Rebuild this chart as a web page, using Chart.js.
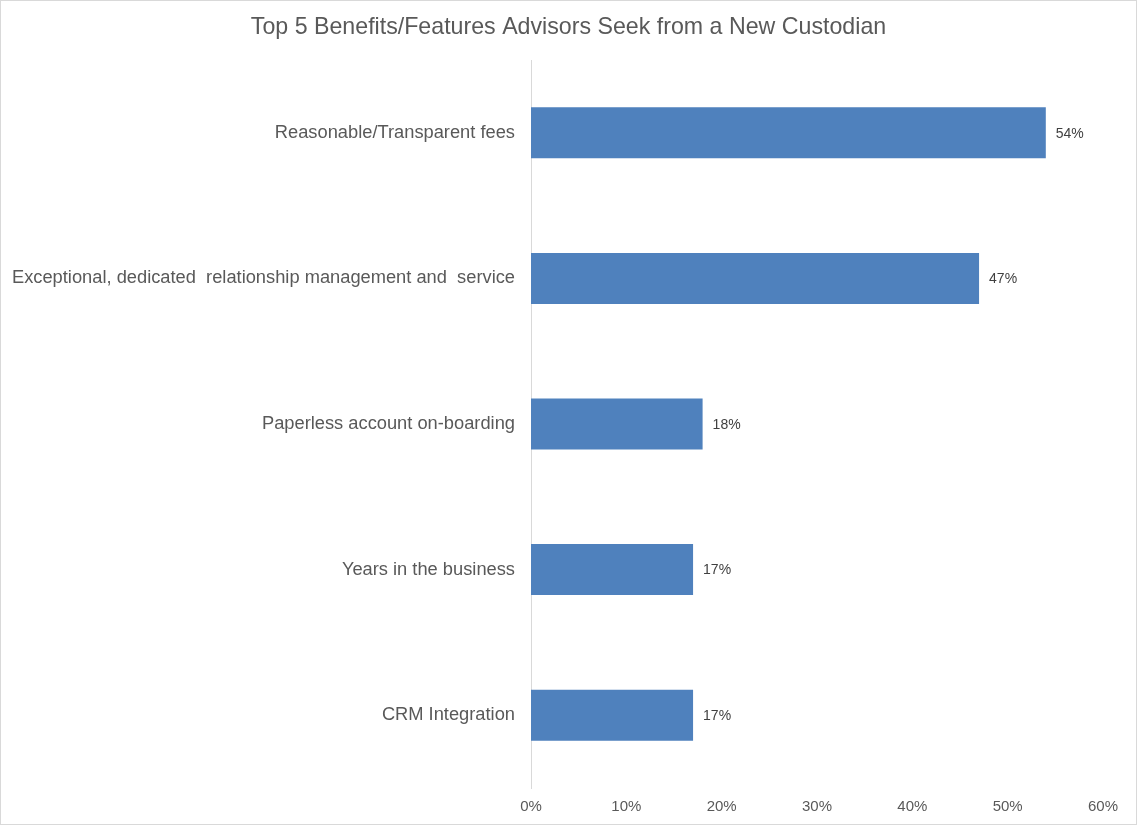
<!DOCTYPE html>
<html>
<head>
<meta charset="utf-8">
<script src="https://cdn.jsdelivr.net/npm/chart.js@4"></script>
<style>
  html, body { margin: 0; padding: 0; background: #fff; }
  #wrap { position: absolute; left: 0; top: 0; width: 1137px; height: 825px; box-sizing: border-box; border: 1px solid #d9d9d9; }
  #chart { display: block; }
</style>
</head>
<body>
<div id="wrap"><canvas id="chart" width="1135" height="823"></canvas></div>
<script>
const chartTitle = 'Top 5 Benefits/Features Advisors Seek from a New Custodian';
const categories = [
    'Reasonable/Transparent fees',
    'Exceptional, dedicated  relationship management and  service',
    'Paperless account on-boarding',
    'Years in the business',
    'CRM Integration'
];
const values = [54, 47, 18, 17, 17];
const xTicks = [0, 10, 20, 30, 40, 50, 60];

const fontFamily = '"Liberation Sans", Arial, sans-serif';

// value labels next to each bar
const valueLabels = {
    id: 'valueLabels',
    afterDatasetsDraw(chart) {
        const ctx = chart.ctx;
        const meta = chart.getDatasetMeta(0);
        ctx.save();
        ctx.font = '14px ' + fontFamily;
        ctx.fillStyle = '#404040';
        ctx.textAlign = 'left';
        ctx.textBaseline = 'middle';
        meta.data.forEach((bar, i) => {
            ctx.fillText(values[i] + '%', bar.x + 10, bar.y + 1);
        });
        ctx.restore();
    }
};

// title centred on the whole canvas (the built-in one ignores the right padding)
const centredTitle = {
    id: 'centredTitle',
    afterDraw(chart) {
        const ctx = chart.ctx;
        ctx.save();
        ctx.font = '23.2px ' + fontFamily;
        ctx.fillStyle = '#595959';
        ctx.textAlign = 'center';
        ctx.textBaseline = 'middle';
        ctx.fillText(chartTitle, chart.width / 2, 27);
        ctx.restore();
    }
};

Chart.defaults.font.family = fontFamily;

new Chart(document.getElementById('chart'), {
    type: 'bar',
    data: {
        labels: categories,
        datasets: [{
            data: values,
            backgroundColor: '#4f81bd',
            barPercentage: 0.35,
            categoryPercentage: 1
        }]
    },
    plugins: [valueLabels, centredTitle],
    options: {
        indexAxis: 'y',
        responsive: false,
        animation: false,
        layout: { padding: { left: 0, right: 33, top: 59, bottom: 0 } },
        plugins: {
            legend: { display: false },
            tooltip: { enabled: false },
            title: { display: false }
        },
        scales: {
            x: {
                min: 0,
                max: 60,
                afterBuildTicks: scale => { scale.ticks = xTicks.map(v => ({ value: v })); },
                afterFit: scale => { scale.height = 36; },
                grid: { display: false, drawTicks: false },
                border: { display: false },
                ticks: {
                    padding: 10,
                    color: '#595959',
                    font: { size: 15 },
                    callback: v => v + '%'
                }
            },
            y: {
                afterFit: scale => { scale.width = 530; },
                grid: { display: false, drawTicks: false },
                border: { display: true, color: '#d9d9d9', width: 1 },
                ticks: {
                    padding: 16,
                    color: '#595959',
                    font: { size: 18.3 }
                }
            }
        }
    }
});
</script>
</body>
</html>
